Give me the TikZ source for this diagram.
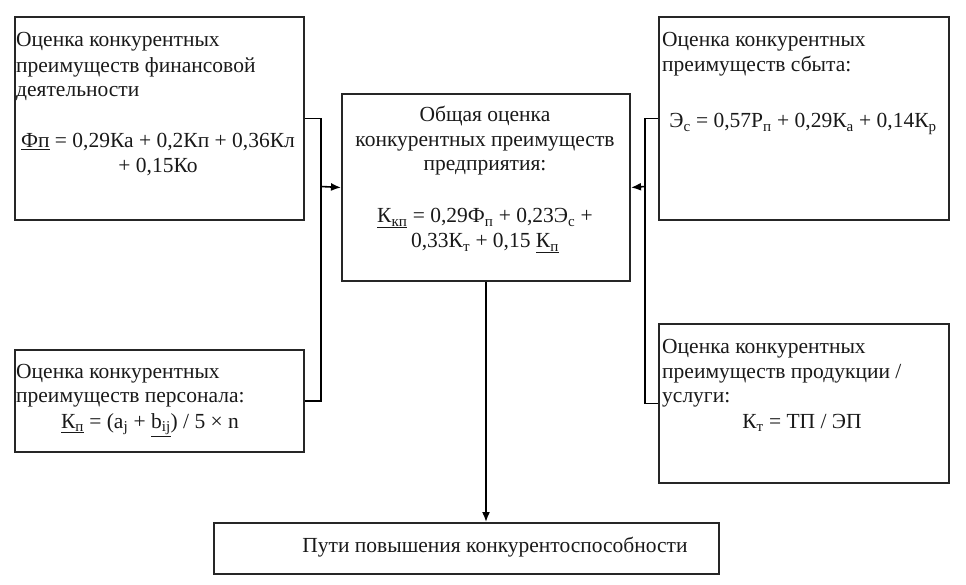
\documentclass[tikz,border=0pt]{standalone}
\usepackage{fontspec}
\setmainfont{Liberation Serif}
\usetikzlibrary{arrows.meta}
\newcommand{\sbs}[1]{\textsubscript{#1}}
\begin{document}
\begin{tikzpicture}[x=1pt,y=-1pt,
  box/.style={draw=black!85,line width=2pt,anchor=north west,inner sep=0pt},
  txt/.style={inner sep=0pt,font=\fontsize{21.5}{25}\selectfont,text=black!90,anchor=base west},
  ctxt/.style={inner sep=0pt,font=\fontsize{21.5}{25}\selectfont,text=black!90,anchor=base},
  conn/.style={line width=1.6pt,black},
  arr/.style={conn,-{Latex[length=10pt,width=8pt]}}]
\useasboundingbox (0,0) rectangle (966,585);
% boxes
\node[box,minimum width=289pt,minimum height=203pt] (fin) at (14,16) {};
\node[box,minimum width=288pt,minimum height=187pt] (gen) at (341,93) {};
\node[box,minimum width=290pt,minimum height=203pt] (sal) at (658,16) {};
\node[box,minimum width=289pt,minimum height=102pt] (per) at (14,349) {};
\node[box,minimum width=290pt,minimum height=159pt] (pro) at (658,323) {};
\node[box,minimum width=505pt,minimum height=51pt] (way) at (213,522) {};
% texts: financial
\node[txt] (fin1) at (16,47) {Оценка конкурентных};
\node[txt] (fin2) at (16,73) {преимуществ финансовой};
\node[txt] (fin3) at (16,97) {деятельности};
\node[ctxt] (fin4) at (158,148) {\underline{Фп} = 0,29Ка + 0,2Кп + 0,36Кл};
\node[ctxt] (fin5) at (158,173) {+ 0,15Ко};
% general
\node[ctxt] (gen1) at (485,122) {Общая оценка};
\node[ctxt] (gen2) at (485,147) {конкурентных преимуществ};
\node[ctxt] (gen3) at (485,171) {предприятия:};
\node[ctxt] (gen4) at (485,223) {\underline{К\sbs{кп}} = 0,29Ф\sbs{п} + 0,23Э\sbs{с} +};
\node[ctxt] (gen5) at (485,248) {0,33К\sbs{т} + 0,15 \underline{К\sbs{п}}};
% sales
\node[txt] (sal1) at (662,47) {Оценка конкурентных};
\node[txt] (sal2) at (662,72) {преимуществ сбыта:};
\node[ctxt] (sal3) at (803,128) {Э\sbs{с} = 0,57Р\sbs{п} + 0,29К\sbs{а} + 0,14К\sbs{р}};
% personnel
\node[txt] (per1) at (16,378) {Оценка конкурентных};
\node[txt] (per2) at (16,402) {преимуществ персонала:};
\node[ctxt] (per3) at (150,428) {\underline{К\sbs{п}} = (a\sbs{j} + \underline{b\sbs{ij}}) / 5 × n};
% product
\node[txt] (pro1) at (662,353) {Оценка конкурентных};
\node[txt] (pro2) at (662,378) {преимуществ продукции /};
\node[txt] (pro3) at (662,402) {услуги:};
\node[ctxt] (pro4) at (802,428) {К\sbs{т} = ТП / ЭП};
% ways
\node[ctxt] (way1) at (495,552) {Пути повышения конкурентоспособности};
% connectors
\coordinate (lb) at (321,186.5);
\coordinate (rb) at (645,186.5);
\draw[conn] (fin.east) -| (lb) |- (per.east);
\draw[arr] (lb) -- (gen.west);
\draw[conn] (sal.west) -| (rb) |- (pro.west);
\draw[arr] (rb) -- (gen.east);
\draw[arr] (gen.south) -- (gen.south |- way.north);
\end{tikzpicture}
\end{document}
